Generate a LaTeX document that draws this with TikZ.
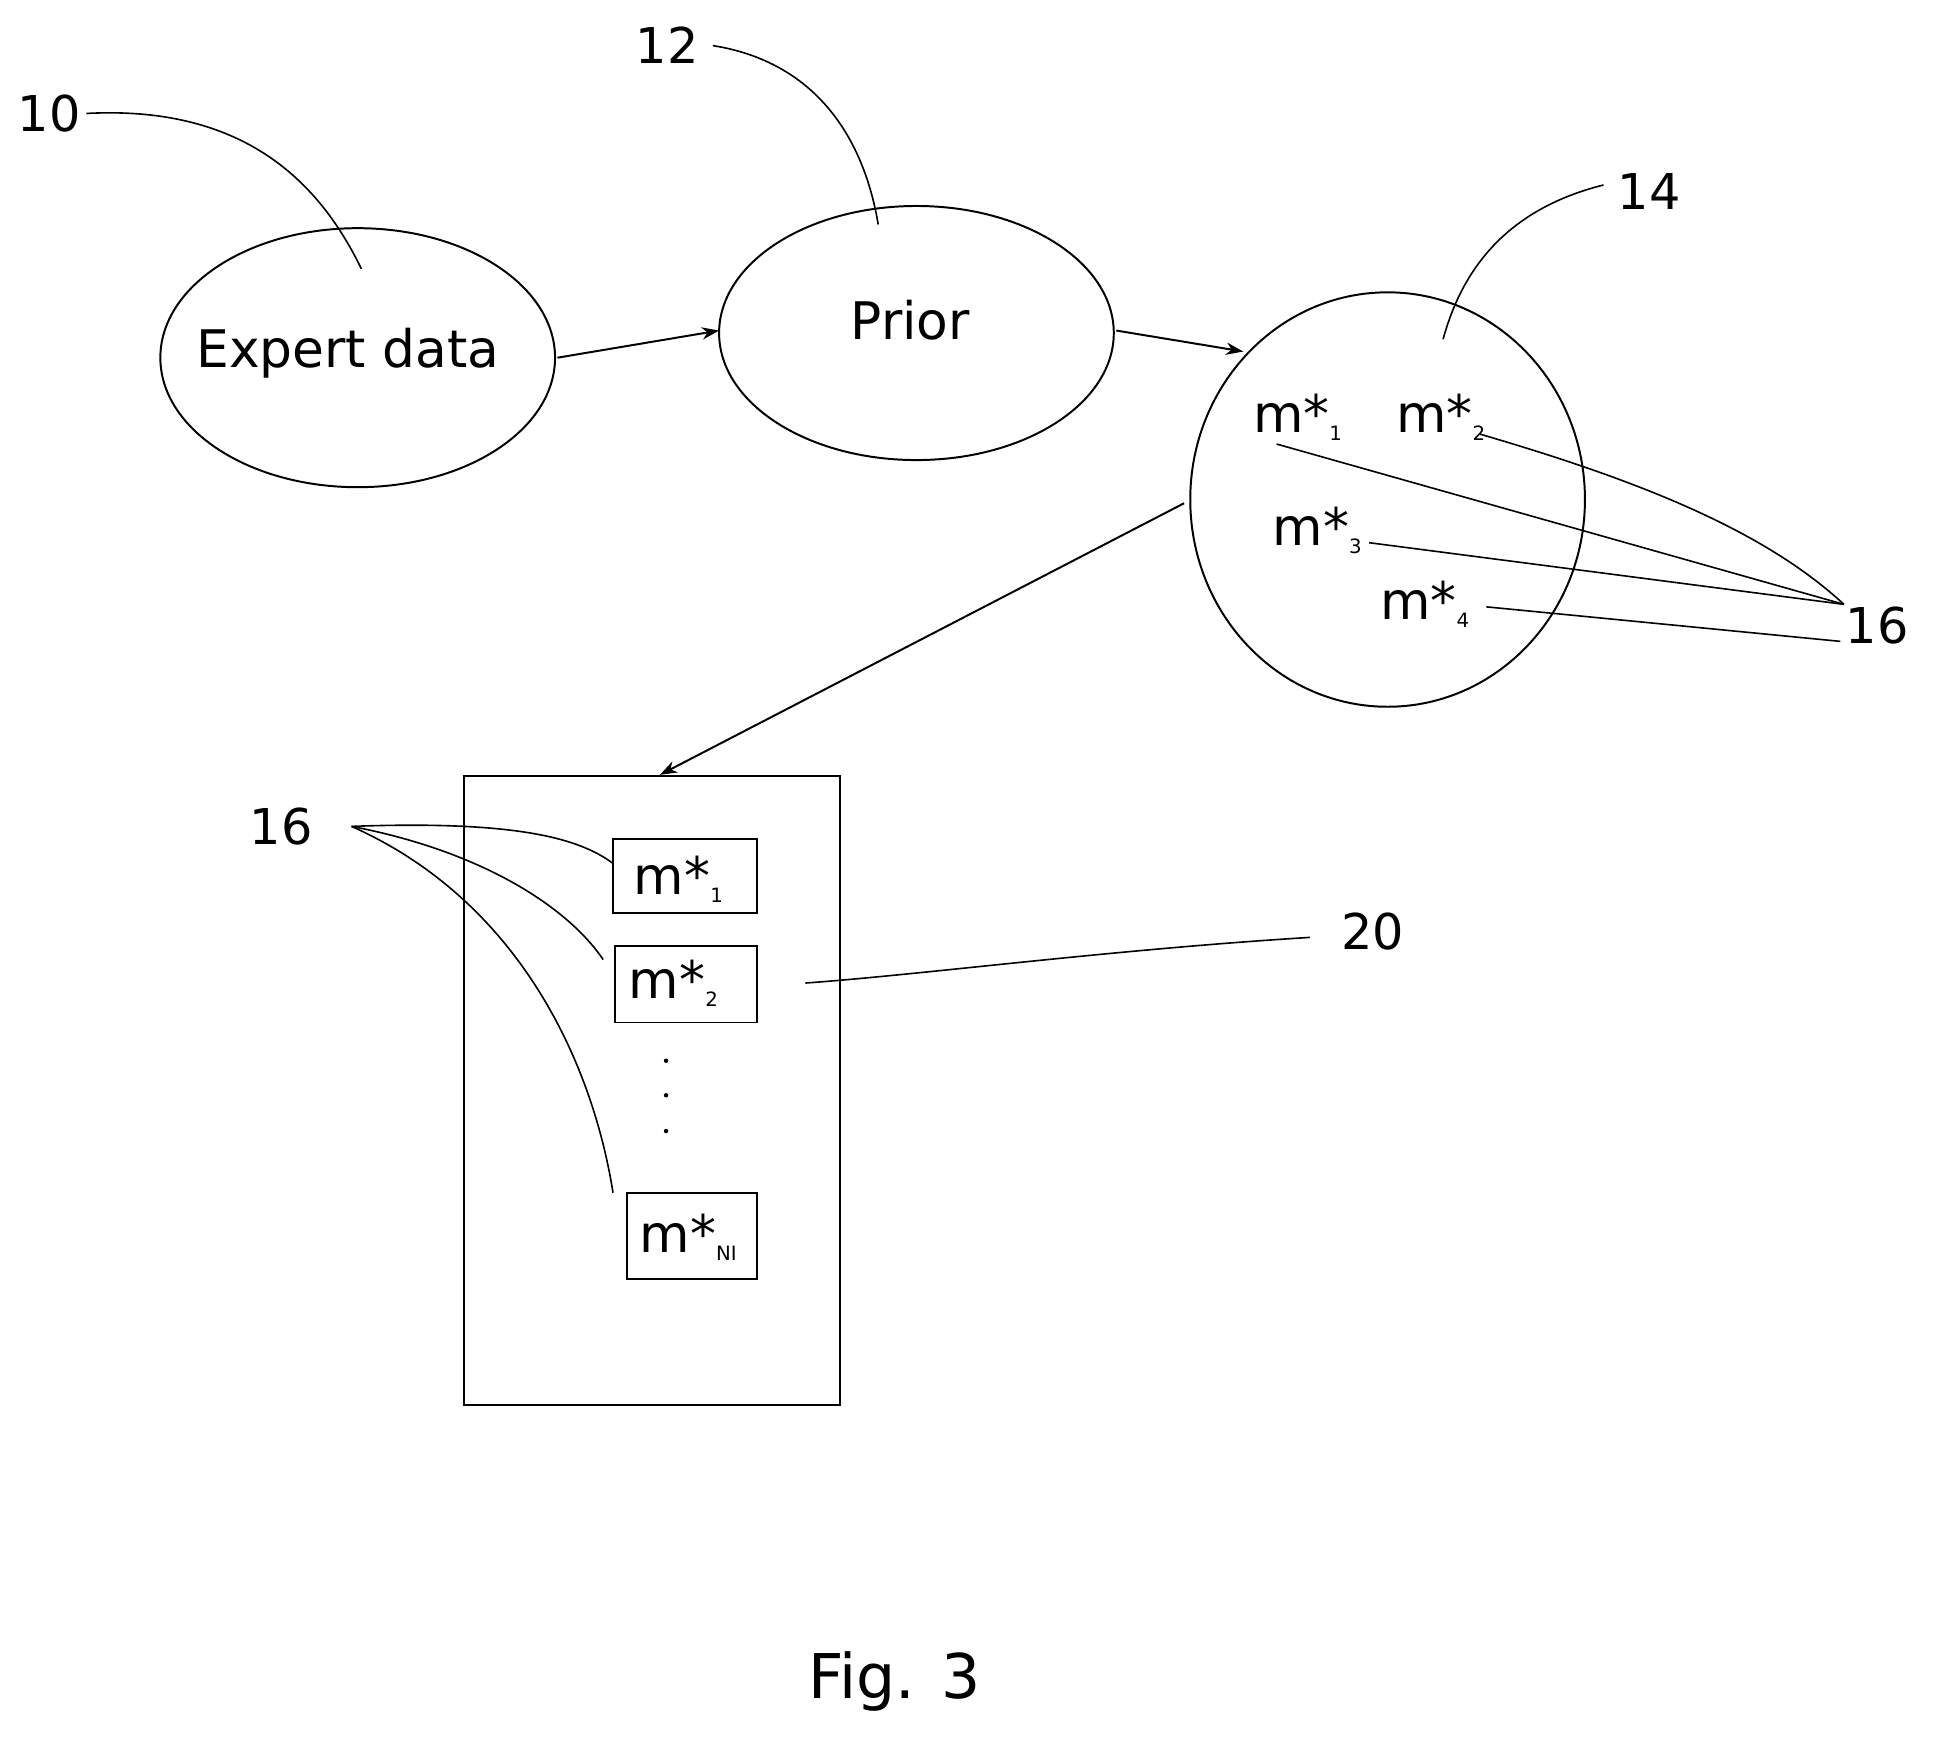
\documentclass[tikz,border=0pt]{standalone}
\usepackage{fontspec}
\setmainfont{DejaVu Sans}
\usetikzlibrary{shapes.geometric,arrows.meta}
\newcommand{\mst}[1]{m*\raisebox{-0.15em}{\fontsize{16}{16}\selectfont #1}}
\begin{document}
\begin{tikzpicture}[x=1pt,y=-1pt,
  every node/.style={inner sep=0pt},
  big/.style={font=\fontsize{42}{46}\selectfont},
  num/.style={font=\fontsize{40}{44}\selectfont},
  ln/.style={line width=1.6pt},
  arr/.style={ln,-{Stealth[length=14pt,width=10pt]}},
  lead/.style={line width=1.3pt},
  box/.style={draw,line width=1.6pt,rectangle}]
\useasboundingbox (0,0) rectangle (1568,1412);
\node[draw,ln,ellipse,minimum width=320,minimum height=210] (ed) at (290,290) {};
\node[big] at (282,286) {Expert data};
\node[draw,ln,ellipse,minimum width=320,minimum height=206] (pr) at (743,270) {};
\node[big] at (738,260) {Prior};
\node[draw,ln,ellipse,minimum width=320,minimum height=336] (c14) at (1125,405) {};
\node[big] (a1) at (1052,338) {\mst{1}};
\node[big] (a2) at (1168,338) {\mst{2}};
\node[big] (a3) at (1068,430) {\mst{3}};
\node[big] (a4) at (1155,490) {\mst{4}};
\coordinate (e1) at (452,290); \coordinate (p1) at (583,268);
\coordinate (e2) at (905,268); \coordinate (p2) at (1008,285);
\coordinate (e3) at (960,408);
\draw[arr] (e1) -- (p1);
\draw[arr] (e2) -- (p2);
\node[box,minimum width=305,minimum height=510] (rb) at (528.5,884) {};
\draw[arr] (e3) -- (rb.north -| 535,0);
\node[box,minimum width=117,minimum height=60] (b1) at (555.5,710) {};
\node[big] at (550,713) {\mst{1}};
\node[box,minimum width=115,minimum height=62] (b2) at (556.5,798) {};
\node[big] at (546,797) {\mst{2}};
\node[box,minimum width=106,minimum height=70] (b3) at (561,1002) {};
\node[big] at (558,1003) {\mst{NI}};
\foreach \yy in {860,888,917} \fill (540,\yy) circle (1.8);
% labels
\node[num] (n10) at (40,92) {10};
\node[num] (n12) at (541,37) {12};
\node[num] (n14) at (1337,155) {14};
\node[num] (n16) at (1522,507) {16};
\node[num] (m16) at (228,670) {16};
\node[num] (n20) at (1113,755) {20};
\node[font=\fontsize{50}{56}\selectfont] (fig) at (725,1363) {Fig. 3};
\draw[lead] (70,92) .. controls (200,85) and (260,150) .. (293,218);
\draw[lead] (578,37) .. controls (660,50) and (700,110) .. (712,182);
\draw[lead] (1300,150) .. controls (1220,170) and (1185,220) .. (1170,275);
\coordinate (t) at (1495,490);
\draw[lead] (1035,360) -- (t);
\draw[lead] (1200,352) .. controls (1330,390) and (1430,430) .. (t);
\draw[lead] (1110,440) -- (t);
\draw[lead] (1205,492) -- (1492,520);
\draw[lead] (285,670) .. controls (420,665) and (470,680) .. (497,700);
\draw[lead] (285,670) .. controls (390,690) and (460,735) .. (489,778);
\draw[lead] (285,670) .. controls (420,730) and (480,860) .. (497,967);
\draw[lead] (1062,760) .. controls (900,770) and (750,790) .. (653,797);
\end{tikzpicture}
\end{document}
